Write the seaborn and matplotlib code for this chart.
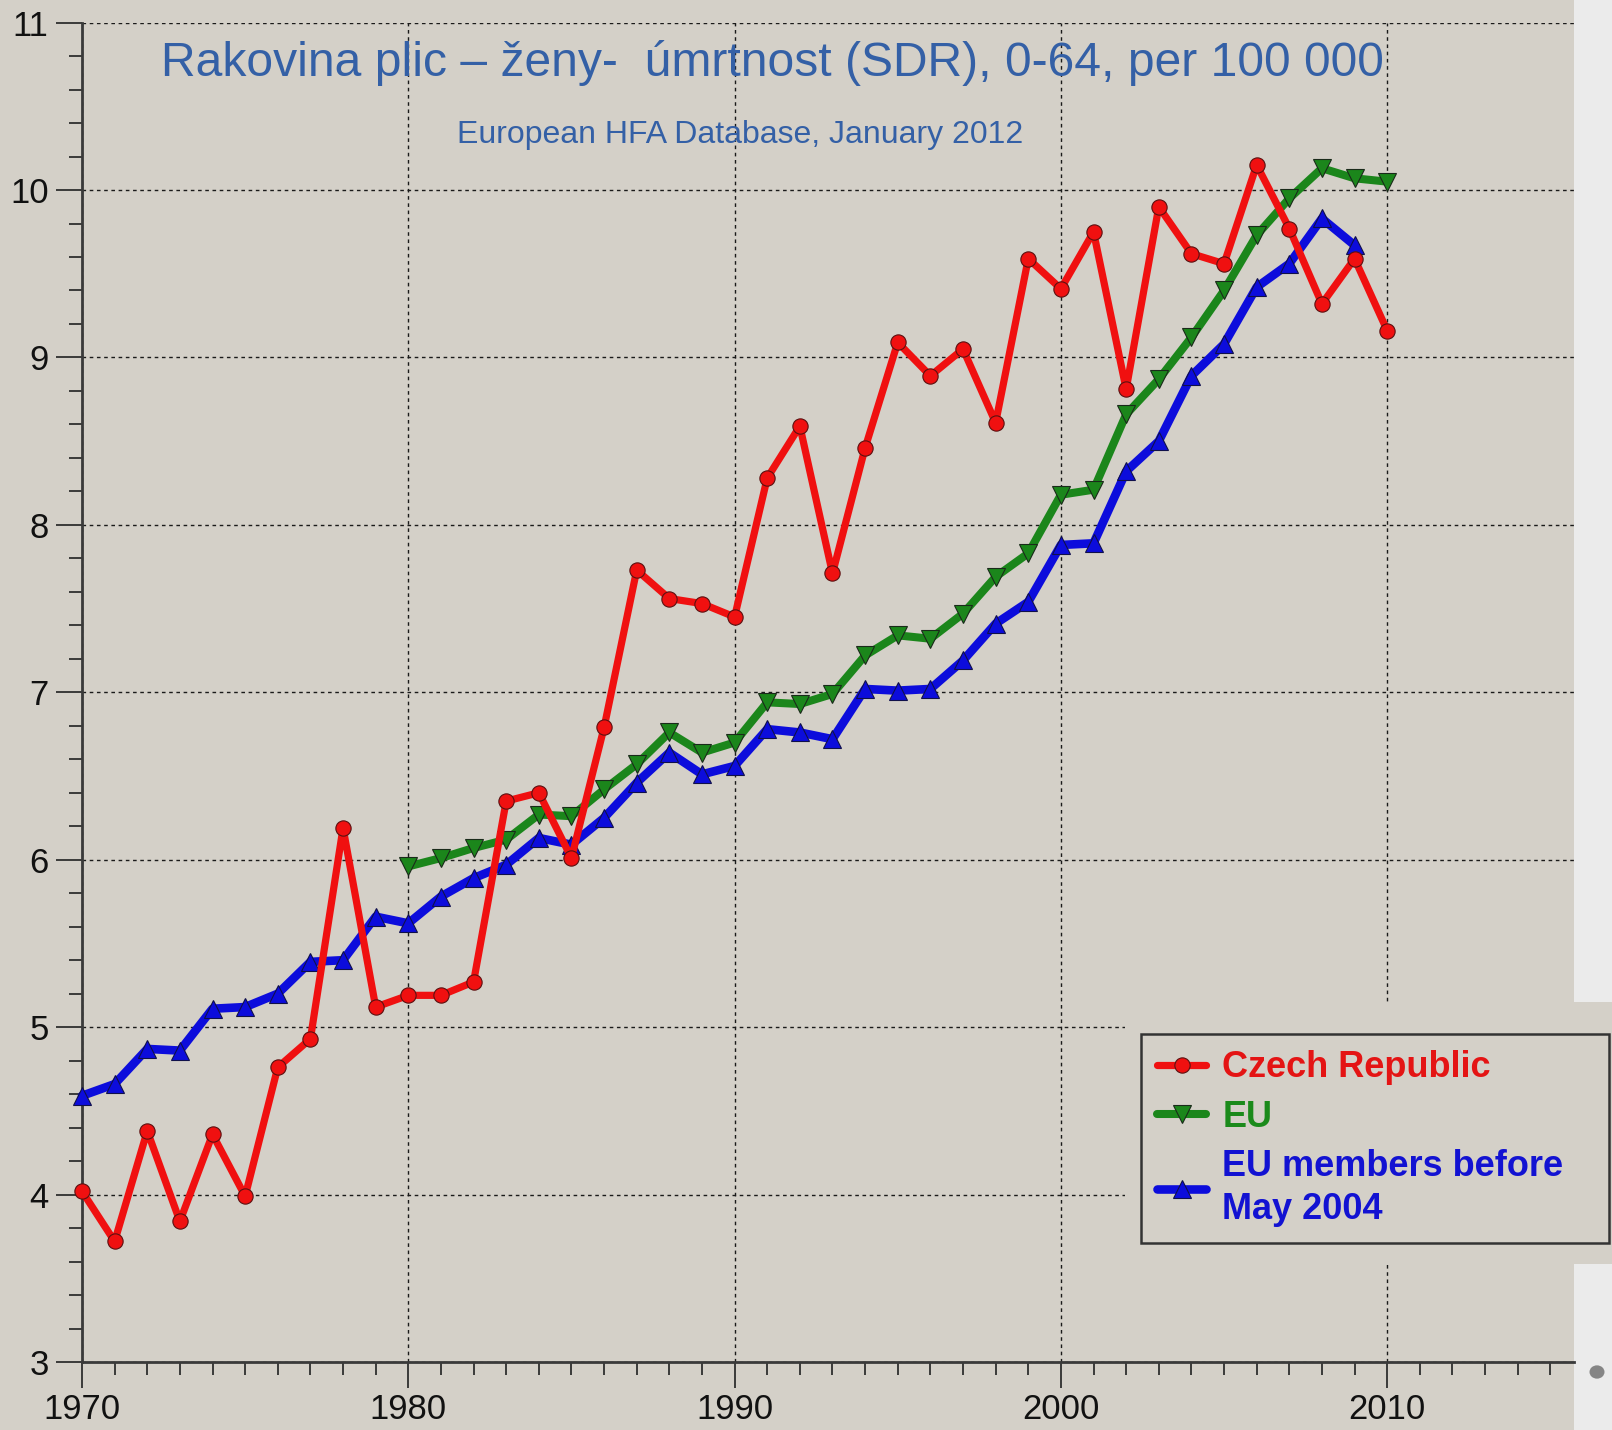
import matplotlib
matplotlib.use("Agg")
import matplotlib.pyplot as plt
import seaborn as sns
import pandas as pd
from matplotlib.patches import Rectangle, Circle
from matplotlib.ticker import MultipleLocator, FixedLocator
from matplotlib import font_manager

# ---------------- data ----------------
years_cz = list(range(1970, 2011))
czech = [4.02, 3.72, 4.38, 3.84, 4.36, 3.99, 4.76, 4.93, 6.19, 5.12,
         5.19, 5.19, 5.27, 6.35, 6.40, 6.01, 6.79, 7.73, 7.56, 7.53,
         7.45, 8.28, 8.59, 7.71, 8.46, 9.09, 8.89, 9.05, 8.61, 9.59,
         9.41, 9.75, 8.81, 9.90, 9.62, 9.56, 10.15, 9.77, 9.32, 9.59,
         9.16]
years_eu = list(range(1980, 2011))
eu = [5.96, 6.01, 6.07, 6.12, 6.27, 6.26, 6.42, 6.57, 6.76, 6.64,
      6.70, 6.94, 6.93, 6.99, 7.22, 7.34, 7.32, 7.47, 7.69, 7.83,
      8.18, 8.21, 8.66, 8.87, 9.12, 9.40, 9.73, 9.95, 10.13, 10.07,
      10.05]
years_eu15 = list(range(1970, 2010))
eu15 = [4.59, 4.66, 4.87, 4.86, 5.11, 5.12, 5.20, 5.39, 5.40, 5.66,
        5.62, 5.78, 5.89, 5.97, 6.13, 6.09, 6.25, 6.46, 6.64, 6.51,
        6.56, 6.78, 6.76, 6.72, 7.02, 7.01, 7.02, 7.19, 7.41, 7.54,
        7.88, 7.89, 8.32, 8.50, 8.89, 9.08, 9.42, 9.56, 9.83, 9.67]
series_labels = ["Czech Republic", "EU", "EU members before\nMay 2004"]
title = "Rakovina plic – ženy-  úmrtnost (SDR), 0-64, per 100 000"
subtitle = "European HFA Database, January 2012"
x_major = [1970, 1980, 1990, 2000, 2010]
y_major = list(range(3, 12))

df_cz = pd.DataFrame({"year": years_cz, "value": czech})
df_eu = pd.DataFrame({"year": years_eu, "value": eu})
df_eu15 = pd.DataFrame({"year": years_eu15, "value": eu15})

# ---------------- style ----------------
sns.set_style("ticks")
avail = {f.name for f in font_manager.fontManager.ttflist}
narrow_ok = "Liberation Sans Narrow" in avail
narrow = "Liberation Sans Narrow" if narrow_ok else "Liberation Sans"
plt.rcParams["font.family"] = [narrow, "DejaVu Sans"]
k = 1.0 if narrow_ok else 0.86  # shrink regular face to match condensed widths

BG = "#d4d0c8"
TXT_BLUE = "#3460a6"
RED = "#f01010"
GREEN = "#1b861b"
BLUE = "#0c0cdc"

W, H = 1612, 1430
fig = plt.figure(figsize=(W / 100, H / 100), dpi=100, facecolor=BG)

# light strip on the right edge
fig.add_artist(Rectangle((1574 / W, 0), (W - 1574) / W, 1, transform=fig.transFigure,
                         facecolor="#ebebeb", edgecolor="none", zorder=-1))
fig.add_artist(Circle((1597 / W, 1 - 1372 / H), 7.5 / W, transform=fig.transFigure,
                      facecolor="#858585", edgecolor="none", zorder=-0.5))

ax = fig.add_axes([82 / W, 1 - 1362 / H, (1574 - 82) / W, (1362 - 22.6) / H])
ax.set_facecolor(BG)

sns.lineplot(data=df_eu, x="year", y="value", ax=ax, color=GREEN, lw=5.8,
             marker="v", markersize=13, markerfacecolor=GREEN,
             markeredgecolor="#1a2a1a", markeredgewidth=0.8,
             label=series_labels[1], clip_on=False, zorder=3)
sns.lineplot(data=df_eu15, x="year", y="value", ax=ax, color=BLUE, lw=6.2,
             marker="^", markersize=13.5, markerfacecolor=BLUE,
             markeredgecolor="#10104a", markeredgewidth=0.8,
             label=series_labels[2], clip_on=False, zorder=4)
sns.lineplot(data=df_cz, x="year", y="value", ax=ax, color=RED, lw=5.2,
             marker="o", markersize=11, markerfacecolor=RED,
             markeredgecolor="#5a1010", markeredgewidth=0.8,
             label=series_labels[0], clip_on=False, zorder=5)

ax.set_xlim(1970, 1970 + (1574 - 82) / 32.63)
ax.set_ylim(3, 11)
ax.xaxis.set_major_locator(FixedLocator(x_major))
ax.xaxis.set_minor_locator(MultipleLocator(1))
ax.yaxis.set_major_locator(FixedLocator(y_major))
ax.yaxis.set_minor_locator(MultipleLocator(0.2))
ax.set_xlabel("")
ax.set_ylabel("")

for s in ["top", "right"]:
    ax.spines[s].set_visible(False)
for s in ["left", "bottom"]:
    ax.spines[s].set_color("#3a3a3a")
    ax.spines[s].set_linewidth(2.0)

ax.tick_params(axis="both", which="major", direction="out", length=19, width=1.4,
               color="#3a3a3a", labelsize=29 * k, labelcolor="#111111", pad=5)
ax.tick_params(axis="x", which="major", pad=3)
ax.tick_params(axis="both", which="minor", direction="out", length=9.5, width=1.4,
               color="#3a3a3a")
ax.grid(True, which="major", color="#1a1a1a", linestyle=(0, (2.6, 2.6)), linewidth=1.0)
ax.set_axisbelow(True)

# cover behind the legend (gridlines interrupted there)
fig.add_artist(Rectangle((1125 / W, 1 - 1264 / H), (W - 1125) / W, (1264 - 1002) / H,
                         transform=fig.transFigure, facecolor=BG, edgecolor="none", zorder=2))

handles, labels = ax.get_legend_handles_labels()
ax.get_legend().remove()
order = [labels.index(l) for l in series_labels]
handles = [handles[i] for i in order]
leg = fig.legend(handles, series_labels, loc="upper left",
                 bbox_to_anchor=(1141 / W, 1 - 1240 / H, (1609 - 1141) / W, (1240 - 1034) / H),
                 mode="expand", borderaxespad=0, frameon=True, fancybox=False,
                 facecolor=BG, edgecolor="#333333", framealpha=1,
                 prop={"family": ["Liberation Sans", "DejaVu Sans"], "weight": "bold", "size": 26},
                 handlelength=1.35, handletextpad=0.45, borderpad=0.45, labelspacing=0.4)
leg.get_frame().set_linewidth(1.8)
leg.set_zorder(5)
for t, c in zip(leg.get_texts(), ["#e41414", "#1b8a1b", "#1212d2"]):
    t.set_color(c)
    t.set_linespacing(1.3)

fig.text(772 / W, 1 - 63 / H, title, ha="center", va="center", fontsize=38 * (0.91 if not narrow_ok else 1.0),
         color=TXT_BLUE, family=[narrow, "DejaVu Sans"])
fig.text(740 / W, 1 - 135 / H, subtitle, ha="center", va="center", fontsize=23,
         color=TXT_BLUE, family=[narrow, "DejaVu Sans"])

fig.savefig("out.png", dpi=100, facecolor=BG)
